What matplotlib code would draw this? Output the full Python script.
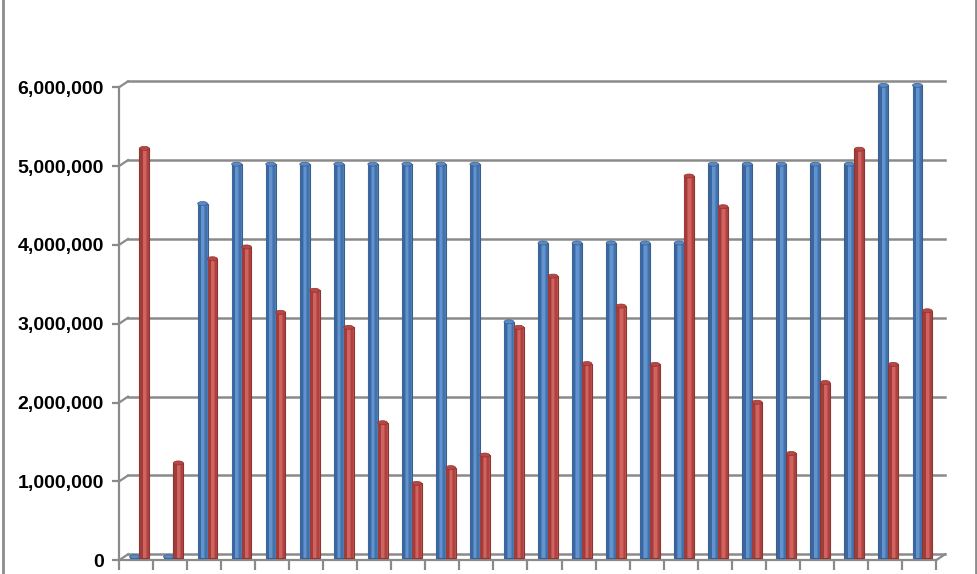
import matplotlib
matplotlib.use("Agg")
import matplotlib.pyplot as plt
import matplotlib.transforms as mtransforms
from matplotlib.lines import Line2D
from matplotlib.patches import Ellipse
import numpy as np

# ---- data ----
groups = list(range(1, 25))
blue_values = [20000, 20000, 4500000, 5000000, 5000000, 5000000, 5000000, 5000000,
               5000000, 5000000, 5000000, 3000000, 4000000, 4000000, 4000000, 4000000,
               4000000, 5000000, 5000000, 5000000, 5000000, 5000000, 6000000, 6000000]
red_values = [5200000, 1210000, 3800000, 3950000, 3120000, 3400000, 2930000, 1720000,
              950000, 1150000, 1310000, 2930000, 3580000, 2470000, 3200000, 2460000,
              4850000, 4460000, 1980000, 1330000, 2230000, 5190000, 2460000, 3140000]
y_ticks = [0, 1000000, 2000000, 3000000, 4000000, 5000000, 6000000]
y_tick_labels = ["0", "1,000,000", "2,000,000", "3,000,000", "4,000,000", "5,000,000", "6,000,000"]

W, H = 978, 574
fig = plt.figure(figsize=(W / 100, H / 100), dpi=100)
fig.patch.set_facecolor("white")

left_px, right_px = 119, 936
base_px = 560.3
px_per_unit = 78.83 / 1e6
ytop = 6.2e6
ax = fig.add_axes([left_px / W, (H - base_px) / H, (right_px - left_px) / W,
                   ytop * px_per_unit / H])
n = len(groups)
ax.set_xlim(0, n)
ax.set_ylim(0, ytop)
ax.set_facecolor("none")
for s in ["top", "right"]:
    ax.spines[s].set_visible(False)
grid_col = "#8a8a8a"
for s in ["left", "bottom"]:
    ax.spines[s].set_color(grid_col)
    ax.spines[s].set_linewidth(1.6)
ax.spines["left"].set_bounds(0, 6e6)

ax.set_yticks(y_ticks)
ax.set_yticklabels(y_tick_labels, fontfamily="Liberation Sans", fontweight="bold", fontsize=14)
ax.set_xticks(np.arange(0, n + 1))
ax.set_xticklabels([])
ax.tick_params(axis="y", length=5, width=1.6, color=grid_col, pad=6)
ax.tick_params(axis="x", length=7, width=1.6, color=grid_col)

# back wall gridlines (3D offset)
dx, dy = 9, 6
back = mtransforms.offset_copy(ax.transData, fig=fig, x=dx, y=dy, units="dots")
for yv in y_ticks:
    ax.plot([0, n], [yv, yv], color=grid_col, lw=1.8, transform=back, clip_on=False, zorder=1)
    p0 = ax.transData.transform((0, yv))
    p1 = back.transform((0, yv))
    fig.add_artist(Line2D([p0[0] / W, p1[0] / W], [p0[1] / H, p1[1] / H],
                          color=grid_col, lw=1.6, zorder=1))
p0 = ax.transData.transform((n, 0))
p1 = back.transform((n, 0))
fig.add_artist(Line2D([p0[0] / W, p1[0] / W], [p0[1] / H, p1[1] / H], color=grid_col, lw=1.6))

# bars (cylinder-like shading), lifted slightly (mid-depth)
mid = mtransforms.offset_copy(ax.transData, fig=fig, x=0, y=2, units="dots")
x = np.arange(n)
bw = 0.29
bx = x + 0.455
rx = x + 0.745
cap_h = 4.0 / px_per_unit / 1e0 * 1e-0 * 1.0
cap_h = 4.0 / 78.83 * 1e6


def draw_bars(xc, vals, base, dark, light, edge, cap):
    ax.bar(xc, vals, width=bw, color=base, edgecolor=edge, linewidth=0.8, zorder=3, transform=mid)
    ax.bar(xc - bw * 0.32, vals, width=bw * 0.3, color=dark, linewidth=0, zorder=4, transform=mid)
    ax.bar(xc + 0.02 * bw, vals, width=bw * 0.28, color=light, linewidth=0, zorder=4, transform=mid)
    ax.bar(xc + bw * 0.36, vals, width=bw * 0.2, color=dark, linewidth=0, alpha=0.6, zorder=4,
           transform=mid)
    for xi, v in zip(xc, vals):
        ax.add_patch(Ellipse((xi, v), bw, cap_h, facecolor=cap, edgecolor=edge,
                             linewidth=0.5, zorder=5, transform=mid))


draw_bars(bx, blue_values, "#4F81BD", "#3C679E", "#6393CF", "#3A5F8F", "#5A8AC6")
draw_bars(rx, red_values, "#C0504D", "#9E3D3A", "#D0625F", "#8E3532", "#B84744")

# chart border lines (left & right)
fig.add_artist(Line2D([2.5 / W, 2.5 / W], [0, 1], color="#8c8c8c", lw=2))
fig.add_artist(Line2D([976.5 / W, 976.5 / W], [0, 1], color="#8c8c8c", lw=2))

fig.savefig("out.png", dpi=100, facecolor="white")
